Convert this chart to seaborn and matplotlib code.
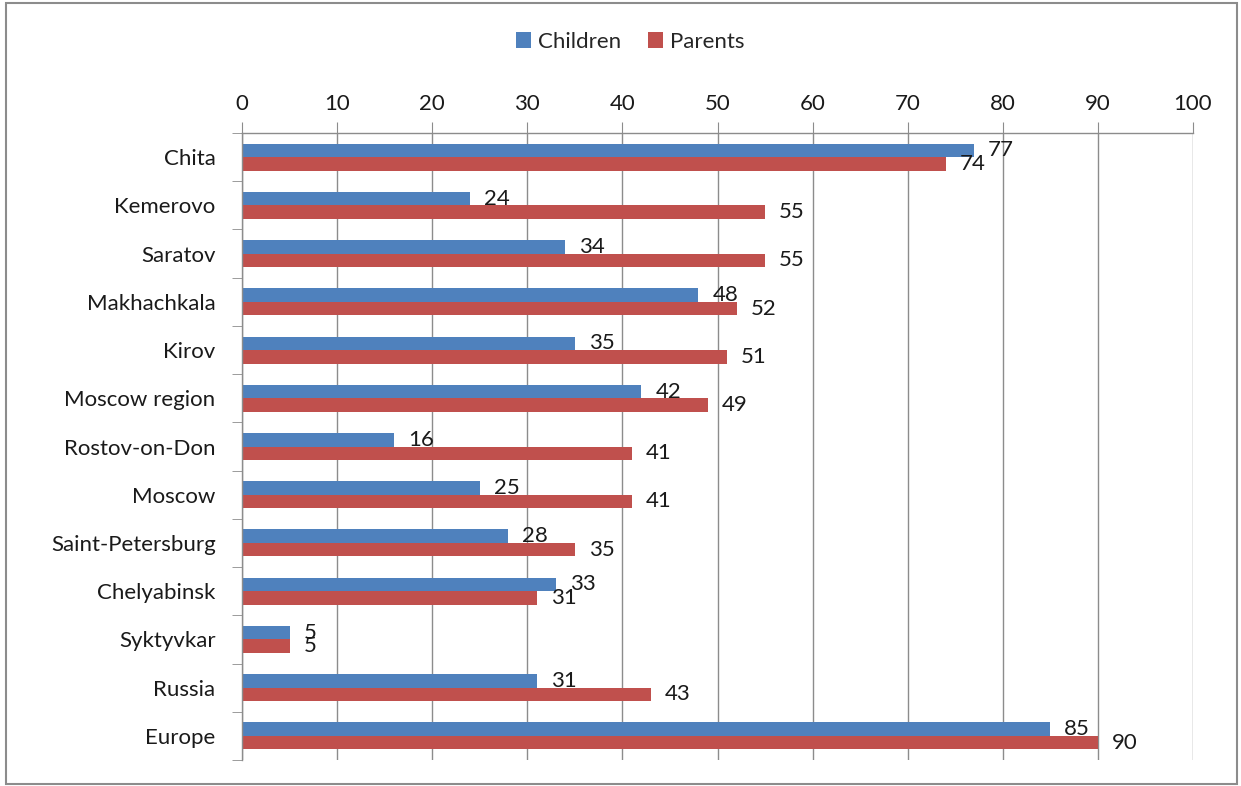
import pandas as pd
import seaborn as sns
import matplotlib.pyplot as plt
from matplotlib.patches import Rectangle

cities = ['Chita', 'Kemerovo', 'Saratov', 'Makhachkala', 'Kirov', 'Moscow region',
          'Rostov-on-Don', 'Moscow', 'Saint-Petersburg', 'Chelyabinsk', 'Syktyvkar',
          'Russia', 'Europe']
children = [77, 24, 34, 48, 35, 42, 16, 25, 28, 33, 5, 31, 85]
parents = [74, 55, 55, 52, 51, 49, 41, 41, 35, 31, 5, 43, 90]
groups = ['Children', 'Parents']
colors = ['#4F81BD', '#C0504D']
xticks = list(range(0, 101, 10))

df = pd.DataFrame({'city': cities * 2,
                   'value': children + parents,
                   'group': ['Children'] * len(cities) + ['Parents'] * len(cities)})

sns.set_style('white')
plt.rcParams['font.family'] = ['Lato', 'DejaVu Sans']
fs = 16

fig = plt.figure(figsize=(12.41, 7.86), dpi=100)
ax = fig.add_axes([242 / 1241, 1 - 760 / 786, (1193 - 242) / 1241, (760 - 133) / 786])

sns.barplot(data=df, y='city', x='value', hue='group', hue_order=groups,
            palette=colors, orient='h', width=0.56, ax=ax, saturation=1,
            edgecolor='none', legend=True)

for cont in ax.containers:
    ax.bar_label(cont, padding=10, fontsize=fs, color='#1a1a1a')

ax.set_xlim(0, 100)
ax.set_ylim(len(cities) - 0.5, -0.5)
ax.set_xticks(xticks)
ax.xaxis.tick_top()
ax.set_xlabel('')
ax.set_ylabel('')
ax.grid(axis='x', color='#8c8c8c', lw=1)
ax.set_axisbelow(True)

ax.tick_params(axis='x', top=True, length=8, color='#8c8c8c', labelsize=fs,
               pad=6, labelcolor='#1a1a1a')
ax.tick_params(axis='y', which='major', length=0, labelsize=fs, pad=19,
               labelcolor='#1a1a1a')
ax.set_yticks([i + 0.5 for i in range(-1, len(cities))], minor=True)
ax.tick_params(axis='y', which='minor', left=True, length=7, color='#8c8c8c')

for s in ['right', 'bottom']:
    ax.spines[s].set_visible(False)
for s in ['top', 'left']:
    ax.spines[s].set_color('#8c8c8c')
    ax.spines[s].set_linewidth(1)

handles, labels = ax.get_legend_handles_labels()
ax.get_legend().remove()
fig.legend(handles, labels, loc='center', bbox_to_anchor=(630 / 1241, 1 - 42 / 786),
           ncol=2, frameon=False, fontsize=fs, handlelength=0.7, handleheight=0.7,
           handletextpad=0.3, columnspacing=1.2)

fig.patches.append(Rectangle((6 / 1241, 2 / 786), 1231 / 1241, 781 / 786,
                             transform=fig.transFigure, fill=False,
                             edgecolor='#8c8c8c', lw=1.5))

plt.savefig('out.png', dpi=100)
